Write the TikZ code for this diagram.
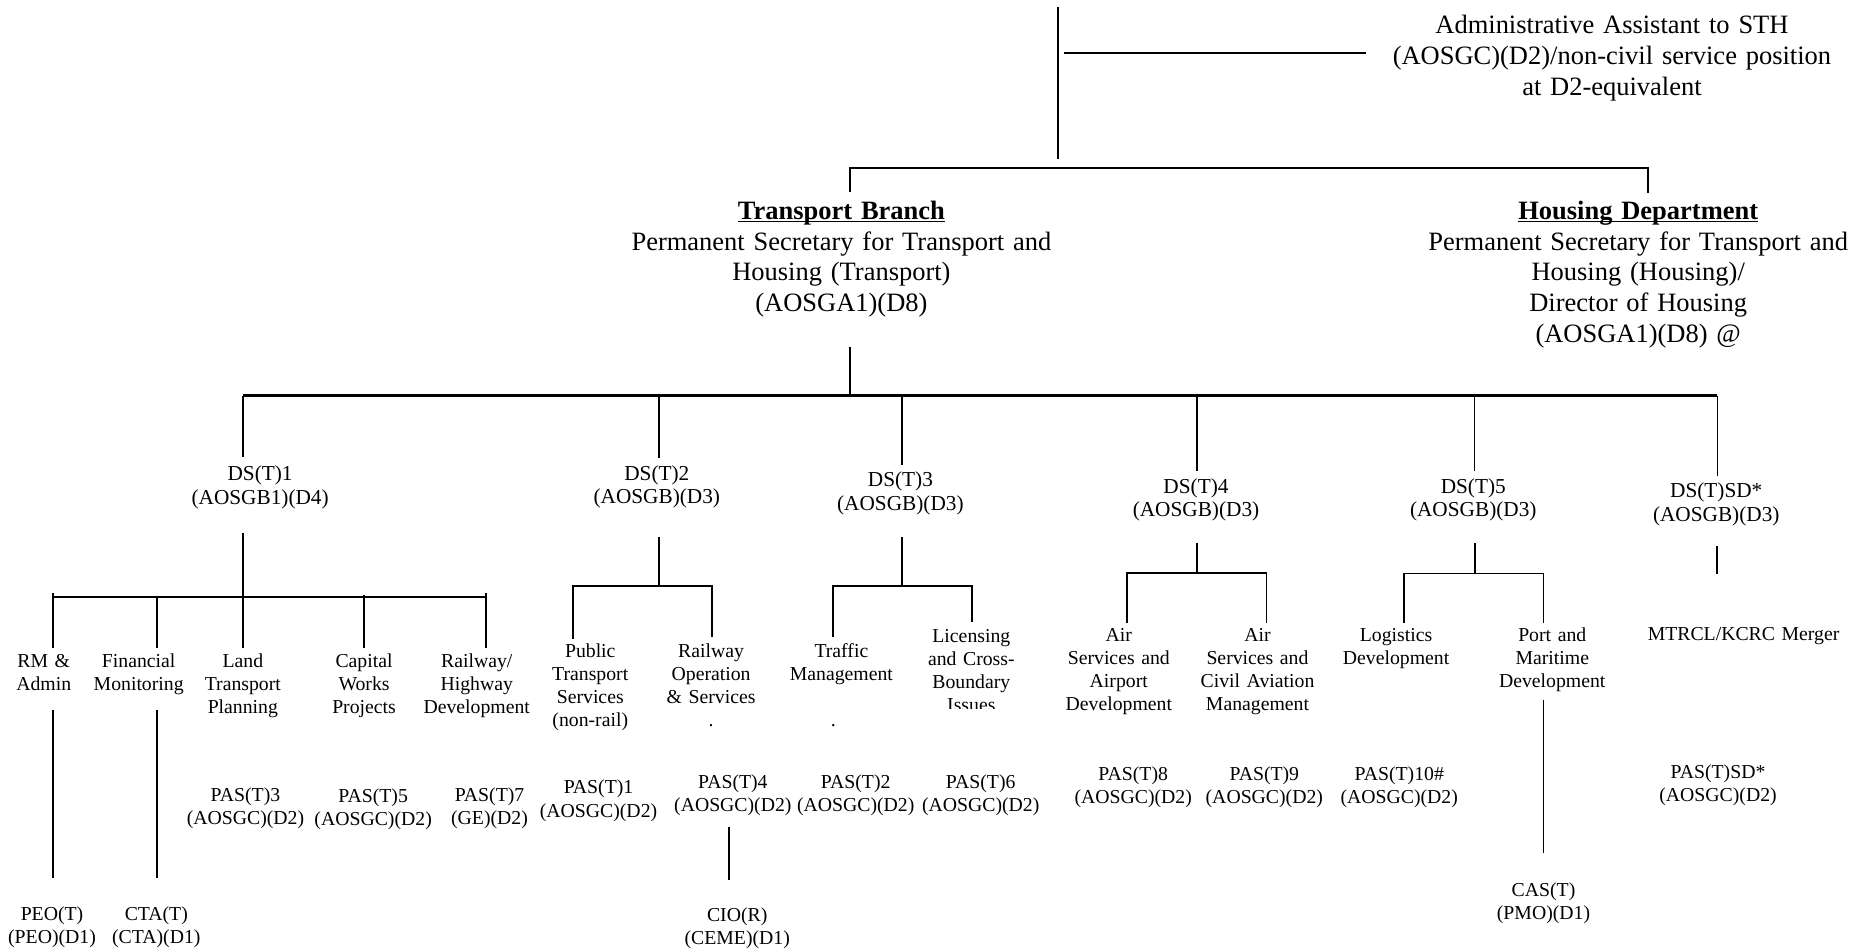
\documentclass[tikz,border=0pt]{standalone}
\usepackage{fontspec}
\setmainfont{Liberation Serif}
\newcommand{\myul}[1]{\setbox0=\hbox{#1}\makebox[0pt][l]{\rule[-2.6pt]{\wd0}{1.1pt}}\box0}
\tikzset{
  toptxt/.style={font=\fontsize{22.4}{26}\selectfont, align=center, text width=420pt, inner sep=0pt, anchor=base},
  dstxt/.style={font=\fontsize{18}{20}\selectfont, align=center, text width=200pt, inner sep=0pt, anchor=base},
  lbl/.style={font=\fontsize{16.7}{19.5}\selectfont, align=center, text width=220pt, inner sep=0pt, anchor=base},
  ln/.style={line width=1.5pt},
  mainln/.style={line width=2.2pt},
}
\begin{document}
\begin{tikzpicture}[x=1pt,y=-1pt]
\useasboundingbox[fill=white] (0,0) rectangle (1568,803.4);

% ---------- top texts ----------
\node[toptxt] (admin) at (1363.3,28.6) {Administrative Assistant to STH\\(AOSGC)(D2)/non-civil service position\\at D2-equivalent};
\node[toptxt] (transport) at (711.6,185.5) {\myul{\textbf{Transport Branch}}\\Permanent Secretary for Transport and\\Housing (Transport)\\(AOSGA1)(D8)};
\node[toptxt] (housing) at (1385.5,185.5) {\myul{\textbf{Housing Department}}\\Permanent Secretary for Transport and\\Housing (Housing)/\\Director of Housing\\(AOSGA1)(D8) @};

% ---------- DS level ----------
\node[dstxt] (ds1) at (220,406.5) {DS(T)1\\(AOSGB1)(D4)};
\node[dstxt] (ds2) at (555.5,406) {DS(T)2\\(AOSGB)(D3)};
\node[dstxt] (ds3) at (761.5,411.5) {DS(T)3\\(AOSGB)(D3)};
\node[dstxt] (ds4) at (1011.5,417) {DS(T)4\\(AOSGB)(D3)};
\node[dstxt] (ds5) at (1246,417) {DS(T)5\\(AOSGB)(D3)};
\node[dstxt] (dssd) at (1451.5,421) {DS(T)SD*\\(AOSGB)(D3)};

% ---------- divisions ----------
\node[lbl] (rm) at (37,564.4) {RM \&\\Admin};
\node[lbl] (fin) at (117.3,564.4) {Financial\\Monitoring};
\node[lbl] (land) at (205.4,564.4) {Land\\Transport\\Planning};
\node[lbl] (capw) at (307.9,564.4) {Capital\\Works\\Projects};
\node[lbl] (rail) at (403.2,564.4) {Railway/\\Highway\\Development};
\node[lbl] (pub) at (499.2,556) {Public\\Transport\\Services\\(non-rail)};
\node[lbl] (rop) at (601.4,556) {Railway\\Operation\\\& Services};
\node[lbl] (dota) at (601.4,614) {.};
\node[lbl] (traf) at (711.6,556) {Traffic\\Management};
\node[lbl] (dotb) at (704.7,614) {.};
\begin{scope}
  \clip (740,520) rectangle (900,599.5);
  \node[lbl] (lic) at (821.5,543.5) {Licensing\\and Cross-\\Boundary\\Issues};
\end{scope}
\node[lbl] (airA) at (946.2,542.7) {Air\\Services and\\Airport\\Development};
\node[lbl] (airB) at (1063.5,542.7) {Air\\Services and\\Civil Aviation\\Management};
\node[lbl] (logi) at (1180.7,542.7) {Logistics\\Development};
\node[lbl] (port) at (1312.8,542.7) {Port and\\Maritime\\Development};
\node[lbl] (mtr) at (1474.6,541.3) {MTRCL/KCRC Merger};

% ---------- PAS level ----------
\node[lbl] (pasA) at (207.6,678) {PAS(T)3\\(AOSGC)(D2)};
\node[lbl] (pasB) at (315.6,679) {PAS(T)5\\(AOSGC)(D2)};
\node[lbl] (pasC) at (414,678) {PAS(T)7\\(GE)(D2)};
\node[lbl] (pasD) at (506.2,671.5) {PAS(T)1\\(AOSGC)(D2)};
\node[lbl] (pasE) at (619.8,666.7) {PAS(T)4\\(AOSGC)(D2)};
\node[lbl] (pasF) at (723.7,666.7) {PAS(T)2\\(AOSGC)(D2)};
\node[lbl] (pasG) at (829.4,666.7) {PAS(T)6\\(AOSGC)(D2)};
\node[lbl] (pasH) at (958.4,660.2) {PAS(T)8\\(AOSGC)(D2)};
\node[lbl] (pasI) at (1069.3,660.2) {PAS(T)9\\(AOSGC)(D2)};
\node[lbl] (pasJ) at (1183.4,660.2) {PAS(T)10\#\\(AOSGC)(D2)};
\node[lbl] (pasK) at (1453,658.3) {PAS(T)SD*\\(AOSGC)(D2)};

% ---------- bottom level ----------
\node[lbl] (peo) at (44,778.6) {PEO(T)\\(PEO)(D1)};
\node[lbl] (cta) at (132.2,778.6) {CTA(T)\\(CTA)(D1)};
\node[lbl] (cio) at (623.5,779.5) {CIO(R)\\(CEME)(D1)};
\node[lbl] (cas) at (1305.4,757.8) {CAS(T)\\(PMO)(D1)};

% ---------- coordinates for connectors ----------
\coordinate (stTop) at (894.5,5.6);
\coordinate (stBot) at (894.5,134.8);
\coordinate (adL) at (899.9,45.1);
\coordinate (adR) at (1155.6,45.1);
\coordinate (brL) at (719,142.4);
\coordinate (brR) at (1393.8,142.4);
\coordinate (brLd) at (719,162.1);
\coordinate (brRd) at (1393.8,163);
\coordinate (tbTop) at (718.6,293.8);
\coordinate (tbBus) at (718.6,334.5);
\coordinate (busL) at (205.8,334.5);
\coordinate (busR) at (1452.5,334.5);
\coordinate (d1) at (205.8,386.8);
\coordinate (d2) at (557.6,387.6);
\coordinate (d3) at (763,393.3);
\coordinate (d4) at (1012.5,398.4);
\coordinate (d5) at (1247,398.4);
\coordinate (d6) at (1452.5,402.6);

% DS(T)1 subtree
\coordinate (s1top) at (205.8,450.5);
\coordinate (s1bus) at (205.8,505);
\coordinate (s1L) at (44.5,505);
\coordinate (s1R) at (411,505);
% DS(T)2 subtree
\coordinate (s2top) at (557.6,453.9);
\coordinate (s2bus) at (557.6,495.6);
\coordinate (s2L) at (484.5,495.6);
\coordinate (s2R) at (602,495.6);
% DS(T)3 subtree
\coordinate (s3top) at (763,454);
\coordinate (s3bus) at (763,495.6);
\coordinate (s3L) at (704.7,495.6);
\coordinate (s3R) at (821.9,495.6);
% DS(T)4 subtree
\coordinate (s4top) at (1012.5,459);
\coordinate (s4bus) at (1012.5,484.9);
\coordinate (s4L) at (953.4,484.9);
\coordinate (s4R) at (1071.2,484.9);
% DS(T)5 subtree
\coordinate (s5top) at (1247.2,459);
\coordinate (s5bus) at (1247.2,485);
\coordinate (s5L) at (1187.7,485);
\coordinate (s5R) at (1305.4,485);
% DS(T)SD*
\coordinate (s6top) at (1452.3,461.8);
\coordinate (s6bot) at (1452.3,485.7);

% ---------- connectors ----------
\draw[ln] (stTop) -- (stBot);
\draw[ln] (adL) -- (adR);
\draw[ln] (brLd) -- (brL) -- (brR) -- (brRd);
\draw[ln] (tbTop) -- (tbBus);
\draw[mainln] (busL) -- (busR);
\draw[ln] (busL) -- (d1);
\draw[ln] (d2 |- busL) -- (d2);
\draw[ln] (d3 |- busL) -- (d3);
\draw[ln] (d4 |- busL) -- (d4);
\draw[ln] (d5 |- busL) -- (d5);
\draw[ln] (busR) -- (d6);

\draw[ln] (s1top) -- (s1bus);
\draw[ln] (s1L) -- (s1R);
\draw[ln] (44.5,501.5) -- (44.5,548.3);
\draw[ln] (132.7,505) -- (132.7,548.3);
\draw[ln] (s1bus) -- (205.8,548.3);
\draw[ln] (308,503.2) -- (308,548.3);
\draw[ln] (411,501.5) -- (411,548.3);
\draw[ln] (44.5,600.5) -- (44.5,742.6);
\draw[ln] (132.7,600.5) -- (132.7,742.6);

\draw[ln] (s2top) -- (s2bus);
\draw[ln] (s2L |- 0,540) -- (s2L) -- (s2R) -- (s2R |- 0,538.5);
\draw[ln] (s3top) -- (s3bus);
\draw[ln] (s3L |- 0,538.5) -- (s3L) -- (s3R) -- (s3R |- 0,525.8);
\draw[ln] (616.4,699.1) -- (616.4,744.2);

\draw[ln] (s4top) -- (s4bus);
\draw[ln] (s4L |- 0,527.2) -- (s4L) -- (s4R) -- (s4R |- 0,527.2);
\draw[ln] (s5top) -- (s5bus);
\draw[ln] (s5L |- 0,527) -- (s5L) -- (s5R) -- (s5R |- 0,526.6);
\draw[ln] (1305.4,592) -- (1305.4,721.1);
\draw[ln] (s6top) -- (s6bot);
\end{tikzpicture}
\end{document}
